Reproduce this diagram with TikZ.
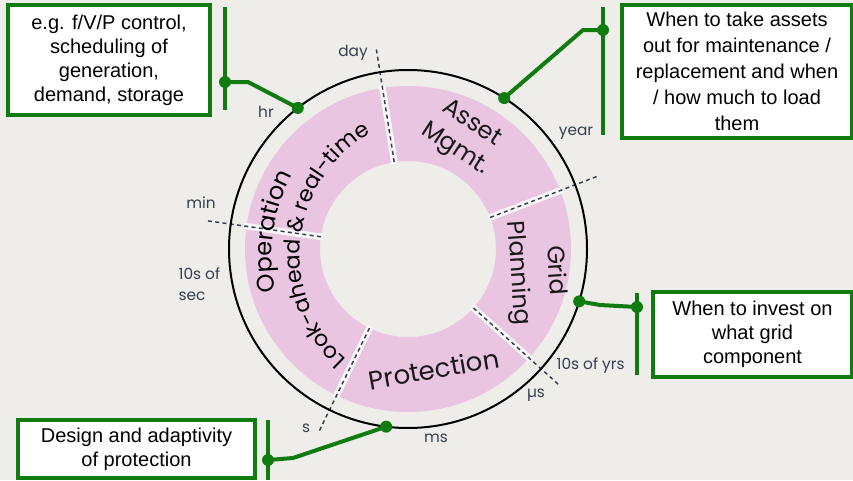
\documentclass[tikz,border=0pt]{standalone}
\usepackage{fontspec}
\setmainfont{Liberation Sans}
\newfontfamily\ringfont{Poppins}
\newfontfamily\tickfont{Poppins}
\usetikzlibrary{decorations.text}

\definecolor{bgcol}{RGB}{238,237,234}
\definecolor{ringpink}{RGB}{233,197,226}
\definecolor{gapcol}{RGB}{248,246,247}
\definecolor{tickcol}{RGB}{52,64,82}
\definecolor{boxgreen}{RGB}{16,124,16}

\newcommand\segfont{\ringfont\fontsize{18}{23}\selectfont}

\tikzset{
  notebox/.style={draw=boxgreen, line width=3pt, fill=white, align=center, inner sep=0pt,
    font=\fontsize{15}{18}\selectfont},
  ticklabel/.style={text=tickcol, inner sep=1pt, font=\tickfont\fontsize{11.5}{16}\selectfont},
  segtext/.style={text=black!90, align=center, inner sep=0pt, font=\segfont},
  wire/.style={draw=boxgreen, line width=3pt, line join=round},
  tapdot/.style={fill=boxgreen},
  gapline/.style={draw=gapcol, line width=5pt},
  scaleline/.style={draw=tickcol, line width=1.1pt, dash pattern=on 3pt off 2.5pt}
}

\begin{document}
\begin{tikzpicture}[x=0.75pt,y=0.75pt]
\useasboundingbox (0,0) rectangle (853,480);
\fill[bgcol] (0,0) rectangle (853,480);

\coordinate (hub) at (408,231);

%Shape: Ring
\fill[ringpink, even odd rule] (hub) circle (163) (hub) circle (88);

\begin{scope}[shift={(408,231)}]
%Straight Lines (gaps and scale marks)
\foreach \a in {99,21,-42,244,172}
  \draw[gapline] (\a:86) -- (\a:166);
\foreach \a in {99,21,-42,244,172}
  \draw[scaleline] (\a:88) -- (\a:205);
\end{scope}

%Shape: Circle
\draw[line width=1.5pt] (hub) circle (179);

%Ring texts
\node[segtext, rotate=-33] (asset) at (463,343) {Asset\\Mgmt.};
\node[segtext, rotate=-86, font=\ringfont\fontsize{18}{28}\selectfont] (grid) at (536,208) {Grid\\Planning};
\node[segtext, rotate=10, font=\ringfont\fontsize{19.5}{23}\selectfont] (prot) at (434,111) {Protection};
\path[decorate, decoration={text along path, text={|\segfont|Operation}, text align=center}]
  (440,225) ++(197:168) arc[start angle=197, end angle=147, radius=168];
\path[decorate, decoration={text along path,
    text={|\ringfont\fontsize{16.5}{22}\selectfont|Look-ahead {\&} real-time}, text align=center}]
  (440,225) ++(236:140) arc[start angle=236, end angle=112, radius=140];

%Scale labels
\node[ticklabel] (tday) at (353,427) {day};
\node[ticklabel] (thr) at (266,368) {hr};
\node[ticklabel] (tyear) at (576,347) {year};
\node[ticklabel] (tmin) at (201,277) {min};
\node[ticklabel, align=left, anchor=west] (tsec) at (177,196) {10s of\\sec};
\node[ticklabel, anchor=west] (tyrs) at (555,114) {10s of yrs};
\node[ticklabel] (tus) at (536,85) {µs};
\node[ticklabel] (tms) at (436,42) {ms};
\node[ticklabel] (ts) at (306,52) {s};

%Text boxes
\node[notebox, minimum width=151.5pt, minimum height=82.5pt] (ctrlbox) at (109,420)
  {e.g. f/V/P control,\\scheduling of\\generation,\\demand, storage};
\node[notebox, minimum width=172.5pt, minimum height=99.75pt,
  font=\fontsize{15}{19.5}\selectfont] (assetbox) at (737,408.5)
  {When to take assets\\out for maintenance /\\replacement and when\\/ how much to load\\them};
\node[notebox, minimum width=149.25pt, minimum height=63.75pt] (gridbox) at (752.5,145.5)
  {When to invest on\\what grid\\component};
\node[notebox, minimum width=177.75pt, minimum height=43.5pt] (protbox) at (136.5,31)
  {Design and adaptivity\\of protection};

%Taps
\coordinate (ctrltap) at (225,398);
\coordinate (assettap) at (603,450);
\coordinate (gridtap) at (637,173);
\coordinate (prottap) at (268,20);
\coordinate (ctrldot) at ([shift={(128:179)}]hub);
\coordinate (assetdot) at ([shift={(57.5:179)}]hub);
\coordinate (griddot) at ([shift={(-17:179)}]hub);
\coordinate (protdot) at ([shift={(263:179)}]hub);

%Straight Lines (bars)
\draw[wire] (225,473) -- (225,370);
\draw[wire] (603,473) -- (603,345);
\draw[wire] (637,187) -- (637,105);
\draw[wire] (268,60) -- (268,0);

%Straight Lines (connectors)
\draw[wire] (ctrltap) -- ++(23,0) -- (ctrldot);
\draw[wire] (assettap) -- ++(-20,0) -- (assetdot);
\draw[wire] (gridtap) -- (600,175) -- (griddot);
\draw[wire] (prottap) -- ++(25,2) -- (protdot);

\foreach \p in {ctrltap,assettap,gridtap,prottap,ctrldot,assetdot,griddot,protdot}
  \fill[tapdot] (\p) circle (6);

\end{tikzpicture}
\end{document}
